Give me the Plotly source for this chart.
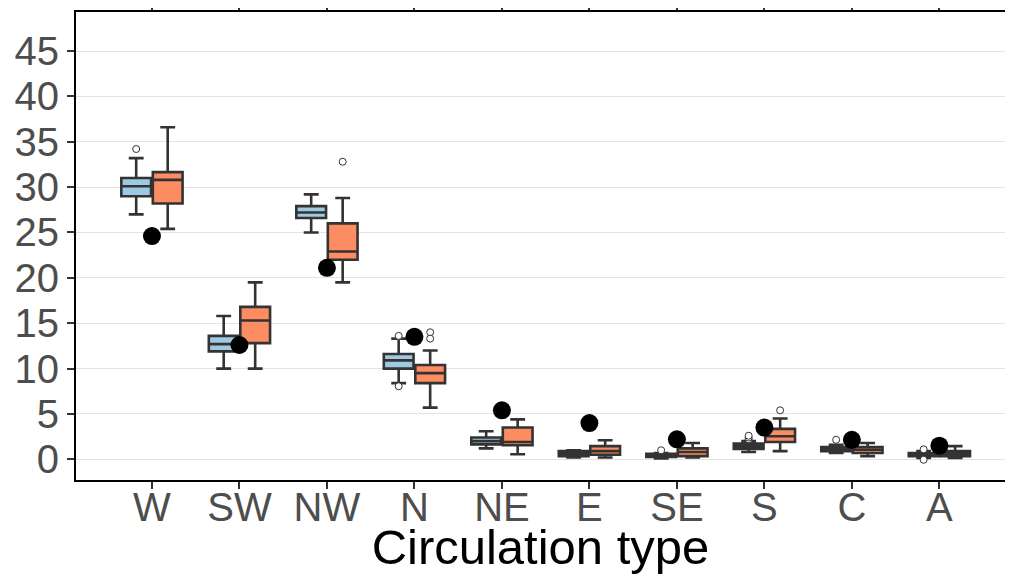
import plotly.graph_objects as go

# Categories and box statistics
tipos = ["W", "SW", "NW", "N", "NE", "E", "SE", "S", "C", "A"]

azul_q1 = [29.0, 11.9, 26.6, 10.0, 1.65, 0.35, 0.25, 1.15, 0.9, 0.35]
azul_med = [30.1, 12.7, 27.2, 10.9, 2.0, 0.6, 0.4, 1.45, 1.1, 0.5]
azul_q3 = [31.0, 13.6, 27.9, 11.6, 2.4, 0.9, 0.6, 1.75, 1.35, 0.7]
azul_min = [27.0, 10.0, 25.0, 8.4, 1.2, 0.2, 0.1, 0.8, 0.7, 0.15]
azul_max = [33.2, 15.8, 29.2, 13.3, 3.1, 1.0, 0.7, 2.0, 1.6, 0.9]
azul_out_cat = ["W", "N", "N", "SE", "S", "S", "S", "C", "A", "A"]
azul_out_val = [34.2, 13.6, 8.05, 1.0, 2.2, 2.4, 2.6, 2.15, 1.1, -0.05]

naranja_q1 = [28.2, 12.8, 22.0, 8.4, 1.55, 0.5, 0.35, 1.9, 0.7, 0.35]
naranja_med = [30.8, 15.3, 22.9, 9.5, 1.9, 0.9, 0.8, 2.55, 1.05, 0.6]
naranja_q3 = [31.65, 16.8, 26.0, 10.4, 3.5, 1.45, 1.2, 3.35, 1.35, 0.9]
naranja_min = [25.4, 10.0, 19.5, 5.7, 0.55, 0.2, 0.2, 0.9, 0.35, 0.15]
naranja_max = [36.6, 19.5, 28.8, 12.0, 4.4, 2.1, 1.8, 4.5, 1.8, 1.45]
naranja_out_cat = ["NW", "N", "N", "S"]
naranja_out_val = [32.8, 14.0, 13.3, 5.4]

puntos = [24.6, 12.6, 21.1, 13.5, 5.4, 4.0, 2.2, 3.5, 2.15, 1.5]

pos = list(range(len(tipos)))
desp = 0.18
ancho = 0.34
linea = "#333333"
rango_x = [-0.868, 9.75]

fig = go.Figure()

fig.add_trace(go.Box(
    x=[p - desp for p in pos],
    q1=azul_q1, median=azul_med, q3=azul_q3,
    lowerfence=azul_min, upperfence=azul_max,
    width=ancho, fillcolor="#9ecae1",
    line=dict(color=linea, width=2.6),
    boxpoints=False, showlegend=False, hoverinfo="skip"
))
fig.add_trace(go.Box(
    x=[p + desp for p in pos],
    q1=naranja_q1, median=naranja_med, q3=naranja_q3,
    lowerfence=naranja_min, upperfence=naranja_max,
    width=ancho, fillcolor="#fc8d62",
    line=dict(color=linea, width=2.6),
    boxpoints=False, showlegend=False, hoverinfo="skip"
))

# atípicos
fig.add_trace(go.Scatter(
    x=[tipos.index(c) - desp for c in azul_out_cat], y=azul_out_val,
    mode="markers", showlegend=False,
    marker=dict(symbol="circle", size=7, color="white",
                line=dict(color=linea, width=1))
))
fig.add_trace(go.Scatter(
    x=[tipos.index(c) + desp for c in naranja_out_cat], y=naranja_out_val,
    mode="markers", showlegend=False,
    marker=dict(symbol="circle", size=7, color="white",
                line=dict(color=linea, width=1))
))

# puntos negros en el eje superior (mismo rango) para dibujar la línea y marcas de arriba
fig.add_trace(go.Scatter(
    x=pos, y=puntos, mode="markers", showlegend=False, xaxis="x2",
    marker=dict(size=18, color="black")
))

# la página añade 8 px de margen al cuerpo: tamaño reducido para que no salgan barras de desplazamiento
fig.update_layout(
    width=997, height=566,
    margin=dict(l=68, r=0, t=4, b=94),
    paper_bgcolor="white", plot_bgcolor="white",
    font=dict(family="Liberation Sans, Arial", color="#4d4d4d"),
    xaxis=dict(
        range=rango_x,
        tickmode="array", tickvals=pos, ticktext=tipos,
        tickfont=dict(size=40, color="#4d4d4d"),
        ticks="outside", ticklen=7, tickwidth=2, tickcolor=linea,
        ticklabelstandoff=-16,
        showline=True, linecolor="black", linewidth=2,
        showgrid=False, zeroline=False, automargin=False,
        title=dict(text="Circulation type", font=dict(size=49, color="black"),
                   standoff=16),
    ),
    xaxis2=dict(
        range=rango_x, overlaying="x", side="top", anchor="y",
        tickmode="array", tickvals=pos, showticklabels=False,
        ticks="outside", ticklen=7, tickwidth=2, tickcolor=linea,
        showline=True, linecolor="black", linewidth=2,
        showgrid=False, zeroline=False, automargin=False,
    ),
    yaxis=dict(
        range=[-2.28, 49.3],
        tickmode="array", tickvals=[0, 5, 10, 15, 20, 25, 30, 35, 40, 45],
        tickfont=dict(size=40, color="#4d4d4d"),
        ticks="outside", ticklen=7, tickwidth=2, tickcolor=linea,
        showline=True, linecolor="black", linewidth=2,
        showgrid=True, gridcolor="#e3e3e3", gridwidth=1,
        zeroline=False, automargin=False,
    ),
)

fig.write_html("out.html")
